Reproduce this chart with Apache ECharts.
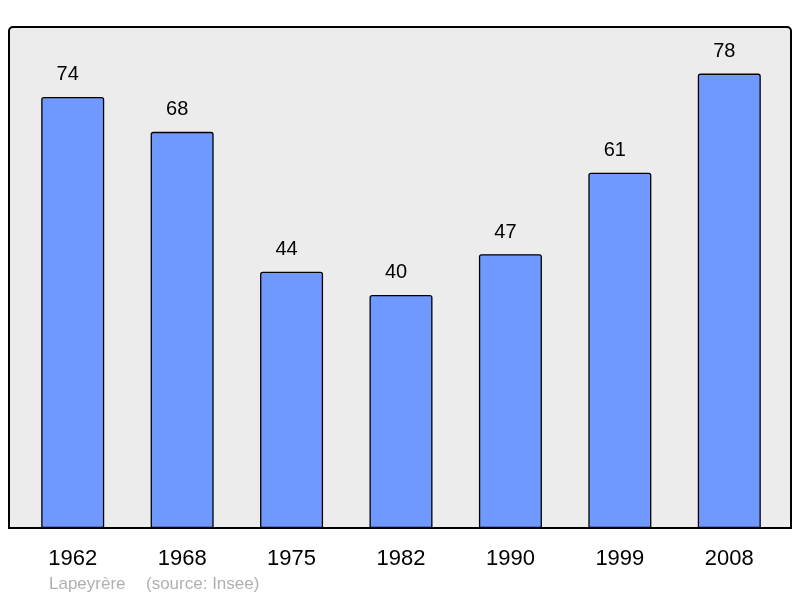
<!DOCTYPE html>
<html><head><meta charset="utf-8">
<script src="https://cdn.jsdelivr.net/npm/echarts@6/dist/echarts.min.js"></script>
<style>html,body{margin:0;padding:0;background:#fff}#c{width:800px;height:598px}</style>
</head><body><div id="c"></div>
<script>
const years = ['1962','1968','1975','1982','1990','1999','2008'];
const population = [74, 68, 44, 40, 47, 61, 78];
const footerName = 'Lapeyrère';
const footerSource = '(source: Insee)';

const chart = echarts.init(document.getElementById('c'));
chart.setOption({
  animation: false,
  textStyle: { fontFamily: 'Liberation Sans, Arial, sans-serif' },
  graphic: [
    { type: 'rect', z: -10, silent: true,
      shape: { x: 9, y: 27, width: 782, height: 501, r: [4,4,0,0] },
      style: { fill: '#ececec', stroke: '#000', lineWidth: 2 } },
    { type: 'text', left: 49, top: 576, silent: true,
      style: { text: footerName, fill: '#b0b0b0', font: '17px "Liberation Sans", Arial, sans-serif' } },
    { type: 'text', left: 146, top: 576, silent: true,
      style: { text: footerSource, fill: '#b0b0b0', font: '17px "Liberation Sans", Arial, sans-serif' } }
  ],
  grid: { left: 18, right: 16, top: 27, bottom: 70 },
  xAxis: {
    type: 'category', data: years,
    axisLine: { show: false }, axisTick: { show: false },
    axisLabel: { color: '#000', fontSize: 22, margin: 20 }
  },
  yAxis: {
    type: 'value', min: 0, max: 86, show: false, splitLine: { show: false }
  },
  series: [{
    type: 'bar', data: population, barWidth: 63,
    itemStyle: { color: '#7099ff', borderColor: '#000', borderWidth: 1.3, borderRadius: [2,2,0,0] },
    label: { show: true, position: 'top', distance: 12, offset: [-5, 0], color: '#000', fontSize: 20 }
  }]
});
</script></body></html>
